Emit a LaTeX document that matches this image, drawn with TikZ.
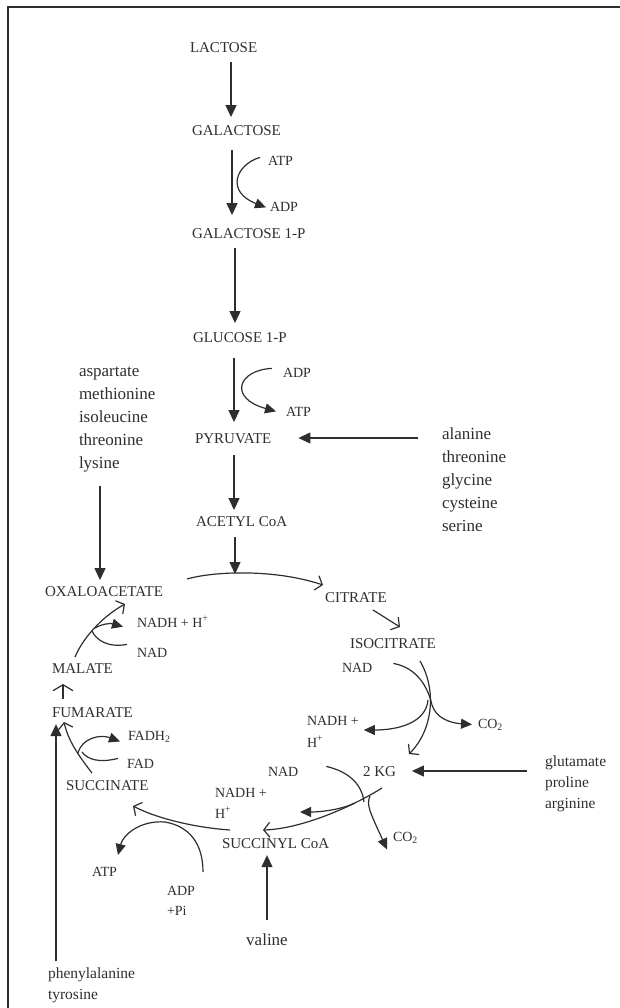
\documentclass[tikz,border=0pt]{standalone}
\usepackage{fontspec}
\setmainfont{Liberation Serif}
\usetikzlibrary{arrows.meta}
\definecolor{ink}{HTML}{2E2E2E}
\begin{document}
\begin{tikzpicture}[x=1pt,y=-1pt,
  lbl/.style={inner sep=0pt, outer sep=0pt, anchor=base west, text=ink, font=\fontsize{15}{18}\selectfont},
  sm/.style={lbl, font=\fontsize{14}{17}\selectfont},
  lst/.style={lbl, align=left, font=\fontsize{17}{23}\selectfont},
  lsts/.style={lbl, align=left, font=\fontsize{15.5}{21}\selectfont},
  ln/.style={draw=ink, line width=1.2pt},
  arr/.style={ln, -{Triangle[length=12pt,width=11pt]}},
  sarr/.style={ln, -{Triangle[length=11pt,width=10pt]}},
  otip/.style={ln, -{Straight Barb[length=6pt,width=15pt]}},
  chev/.style={ln, -{Straight Barb[length=6pt,width=20pt]}},
]
\useasboundingbox (0,0) rectangle (620,1008);
% frame
\draw[ink, line width=1.2pt] (8,1008) -- (8,7) -- (620,7);

% main pathway labels
\node[lbl] (lac) at (190,53) {LACTOSE};
\node[lbl] (gal) at (192,136) {GALACTOSE};
\node[lbl] (gal1p) at (192,239) {GALACTOSE 1-P};
\node[lbl] (glc1p) at (193,342) {GLUCOSE 1-P};
\node[lbl] (pyr) at (195,443) {PYRUVATE};
\node[lbl] (acoa) at (196,526) {ACETYL CoA};
\node[lbl] (oaa) at (45,596) {OXALOACETATE};
\node[lbl] (cit) at (325,602) {CITRATE};
\node[lbl] (icit) at (350,648) {ISOCITRATE};
\node[lbl] (mal) at (52,673) {MALATE};
\node[lbl] (fum) at (52,717) {FUMARATE};
\node[lbl] (suc) at (66,790) {SUCCINATE};
\node[lbl] (kg) at (363,776) {2 KG};
\node[lbl] (scoa) at (222,848) {SUCCINYL CoA};

% cofactors
\node[sm] (atp1) at (268,166) {ATP};
\node[sm] (adp1) at (270,212) {ADP};
\node[sm] (adp2) at (283,377) {ADP};
\node[sm] (atp2) at (286,416) {ATP};
\node[sm] (nadh1) at (137,627) {NADH + H\textsuperscript{+}};
\node[sm] (nad1) at (137,657) {NAD};
\node[sm] (fadh) at (128,740) {FADH\textsubscript{2}};
\node[sm] (fad) at (127,768) {FAD};
\node[sm] (nad2) at (342,672) {NAD};
\node[sm] (nadh2) at (307,725) {NADH +};
\node[sm] (h2) at (307,747) {H\textsuperscript{+}};
\node[sm] (co2a) at (478,728) {CO\textsubscript{2}};
\node[sm] (nad3) at (268,776) {NAD};
\node[sm] (nadh3) at (215,797) {NADH +};
\node[sm] (h3) at (215,818) {H\textsuperscript{+}};
\node[sm] (co2b) at (393,841) {CO\textsubscript{2}};
\node[sm] (atp3) at (92,876) {ATP};
\node[sm] (adp3) at (167,895) {ADP};
\node[sm] (pi) at (167,915) {+Pi};

% amino acid lists (anchored at the baseline of the last line)
\node[lst] (aspl) at (79,468) {aspartate\\methionine\\isoleucine\\threonine\\lysine};
\node[lst] (alal) at (442,531) {alanine\\threonine\\glycine\\cysteine\\serine};
\node[lsts] (glul) at (545,808) {glutamate\\proline\\arginine};
\node[lsts] (phel) at (48,999) {phenylalanine\\tyrosine};
\node[lst, anchor=base] (val) at (267,945) {valine};

% straight pathway arrows
\draw[arr] (lac.south -| 231,0) ++(0,9) -- ([yshift=9pt]gal.north -| 231,0);
\draw[arr] (gal.south -| 232,0) ++(0,14) -- ([yshift=14pt]gal1p.north -| 232,0);
\draw[arr] (gal1p.south -| 235,0) ++(0,9) -- ([yshift=9pt]glc1p.north -| 235,0);
\draw[arr] (glc1p.south -| 234,0) ++(0,16) -- ([yshift=11pt]pyr.north -| 234,0);
\draw[arr] (pyr.south -| 234,0) ++(0,12) -- ([yshift=6pt]acoa.north -| 234,0);
\coordinate (arctop) at (235,574);
\draw[arr] (acoa.south -| 235,0) ++(0,11) -- (arctop);

% cofactor curves upper
\draw[sarr] (atp1.west) ++(-8,-4) .. controls (235,165) and (226,192) .. ([xshift=-4pt]adp1.west);
\draw[sarr] (adp2.west) ++(-11,-4) .. controls (238,370) and (228,398) .. ([xshift=-10pt]atp2.west);

% amino acid feeders
\draw[arr] (aspl.south -| 100,0) ++(0,14) -- ([yshift=6pt]oaa.north -| 100,0);
\draw[arr] (alal.west |- 0,438) ++(-24,0) -- ([xshift=27pt]pyr.east |- 0,438);
\draw[arr] (glul.west |- 0,771) ++(-18,0) -- ([xshift=16pt]kg.east |- 0,771);
\draw[arr] (val.north) ++(0,-13) -- ([yshift=-7pt]scoa.south -| val.north);
\draw[arr] (phel.north -| 56,0) ++(0,-6) -- ([yshift=-7pt]fum.south -| 56,0);

% citrate arc
\draw[otip] (187,579) .. controls (215,571) and (275,569) .. (323,585);
% citrate -> isocitrate
\draw[otip] (373,610) -- (400,627);

% isocitrate -> 2KG
\draw[otip] (420,661) .. controls (437,690) and (433,730) .. (409,754);
\draw[sarr] (nad2.east) ++(21,-4) .. controls (418,668) and (428,688) .. (432,705)
      .. controls (436,718) and (450,723) .. ([xshift=-6pt]co2a.west);
\draw[sarr] (428,700) .. controls (426,722) and (400,730) .. ([xshift=5pt]nadh2.east |- 0,730);

% 2KG -> succinyl CoA
\draw[otip] (382,788) .. controls (350,808) and (300,829) .. (263,830);
\draw[ln] (nad3.east) ++(28,-5) .. controls (350,772) and (362,785) .. (364,802);
\draw[sarr] (355,803) .. controls (340,810) and (320,812) .. (300,812);
\draw[sarr] (370,796) .. controls (366,805) and (370,812) .. ([xshift=-6pt,yshift=-12pt]co2b.west);

% succinyl CoA -> succinate
\draw[otip] (230,830) .. controls (200,828) and (160,820) .. (133,806);
\draw[sarr] (203,872) .. controls (203,842) and (188,826) .. (165,822)
      .. controls (140,820) and (123,835) .. (118,855);

% succinate -> fumarate
\draw[otip] (92,773) .. controls (78,755) and (68,740) .. (64,722);
\draw[ln] (fad.west) ++(-9,-5) .. controls (100,763) and (88,760) .. (82,752);
\draw[sarr] (78,753) .. controls (82,738) and (100,734) .. ([xshift=-8pt,yshift=-5pt]fadh.west);

% fumarate -> malate
\draw[chev] (63,699) -- (63,684);

% malate -> oxaloacetate
\draw[otip] (75,657) .. controls (82,640) and (100,618) .. (125,604);
\draw[ln] (nad1.west) ++(-10,-8) .. controls (108,648) and (96,640) .. (92,631);
\draw[sarr] (95,628) .. controls (102,624) and (110,623) .. ([xshift=-14pt,yshift=-5pt]nadh1.west);
\end{tikzpicture}
\end{document}
